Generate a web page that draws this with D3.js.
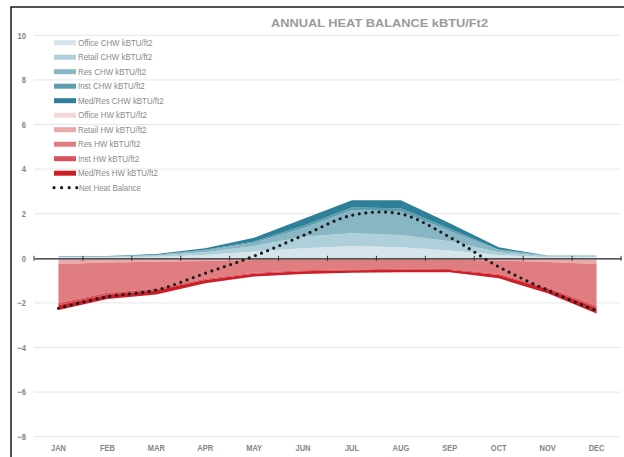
<!DOCTYPE html>
<html>
<head>
<meta charset="utf-8">
<script src="https://cdn.jsdelivr.net/npm/d3@7"></script>
<style>
  html, body { margin: 0; padding: 0; background: #fff; }
  svg { display: block; }
  text { font-family: "Liberation Sans", Arial, sans-serif; }
</style>
</head>
<body>
<svg id="chart" width="624" height="457"></svg>
<script>
// Monthly heat balance, kBTU/ft2
const months = ["JAN","FEB","MAR","APR","MAY","JUN","JUL","AUG","SEP","OCT","NOV","DEC"];

// Chilled water (cooling) loads, positive
const officeCHW = [0.04, 0.04, 0.07, 0.15, 0.30, 0.45, 0.55, 0.50, 0.35, 0.15, 0.05, 0.05];
const retailCHW = [0.03, 0.03, 0.05, 0.12, 0.25, 0.52, 0.57, 0.55, 0.42, 0.12, 0.04, 0.04];
const resCHW    = [0.01, 0.01, 0.03, 0.08, 0.15, 0.38, 1.05, 1.05, 0.45, 0.10, 0.02, 0.02];
const instCHW   = [0.01, 0.01, 0.01, 0.03, 0.05, 0.11, 0.11, 0.15, 0.10, 0.03, 0.01, 0.01];
const medCHW    = [0.01, 0.01, 0.03, 0.07, 0.17, 0.30, 0.32, 0.35, 0.25, 0.09, 0.01, 0.01];

// Hot water (heating) loads, negative
const officeHW  = [-0.08, -0.06, -0.05, -0.04, -0.03, -0.03, -0.03, -0.03, -0.03, -0.04, -0.06, -0.08];
const retailHW  = [-0.17, -0.13, -0.11, -0.08, -0.05, -0.04, -0.04, -0.04, -0.04, -0.06, -0.11, -0.18];
const resHW     = [-1.75, -1.36, -1.20, -0.80, -0.57, -0.47, -0.43, -0.40, -0.41, -0.60, -1.14, -1.88];
const instHW    = [-0.10, -0.08, -0.07, -0.05, -0.04, -0.04, -0.04, -0.04, -0.04, -0.05, -0.07, -0.10];
const medHW     = [-0.22, -0.20, -0.19, -0.15, -0.13, -0.12, -0.11, -0.11, -0.11, -0.15, -0.19, -0.23];

// Net heat balance
const netBalance = [-2.24, -1.72, -1.42, -0.67, 0.10, 1.02, 1.93, 1.99, 0.95, -0.38, -1.43, -2.35];

const yTicks = [-8, -6, -4, -2, 0, 2, 4, 6, 8, 10];

const series = [
  { key: "Office CHW kBTU/ft2",  values: officeCHW, color: "#d5e5eb" },
  { key: "Retail CHW kBTU/ft2",  values: retailCHW, color: "#afd0da" },
  { key: "Res CHW kBTU/ft2",     values: resCHW,    color: "#89b6c4" },
  { key: "Inst CHW kBTU/ft2",    values: instCHW,   color: "#5c9db0" },
  { key: "Med/Res CHW kBTU/ft2", values: medCHW,    color: "#2e8099" },
  { key: "Office HW kBTU/ft2",   values: officeHW,  color: "#f3d6d7" },
  { key: "Retail HW kBTU/ft2",   values: retailHW,  color: "#eaa9ab" },
  { key: "Res HW kBTU/ft2",      values: resHW,     color: "#e07d80" },
  { key: "Inst HW kBTU/ft2",     values: instHW,    color: "#d9515a" },
  { key: "Med/Res HW kBTU/ft2",  values: medHW,     color: "#cc1f28" }
];

const rows = months.map((m, i) => {
  const r = { month: m };
  series.forEach(s => { r[s.key] = s.values[i]; });
  return r;
});

const svg = d3.select("#chart");
const plotLeft = 34, plotRight = 621, plotTop = 35.3, plotBottom = 436.7;

const x = d3.scaleBand().domain(months).range([plotLeft, plotRight]).padding(0);
const cx = m => x(m) + x.bandwidth() / 2;
const y = d3.scaleLinear().domain([-8, 10]).range([plotBottom, plotTop]);

// Squeeze a text element horizontally to a narrow look
function narrow(sel, factor) {
  sel.each(function () {
    const w = this.getComputedTextLength();
    d3.select(this).attr("textLength", w * factor).attr("lengthAdjust", "spacingAndGlyphs");
  });
}

// Outer frame
svg.append("path")
  .attr("d", `M11,470 L11,7 L640,7`)
  .attr("fill", "none").attr("stroke", "#1a1a1a").attr("stroke-width", 1.5);

// Title
svg.append("text")
  .attr("x", 379.5).attr("y", 26.5)
  .attr("text-anchor", "middle")
  .attr("font-size", 11).attr("font-weight", "bold")
  .attr("fill", "#9a9a9a")
  .attr("textLength", 217).attr("lengthAdjust", "spacingAndGlyphs")
  .text("ANNUAL HEAT BALANCE kBTU/Ft2");

// Horizontal gridlines
svg.append("g")
  .selectAll("line")
  .data(yTicks.filter(t => t !== 0))
  .join("line")
  .attr("x1", plotLeft).attr("x2", plotRight - 1)
  .attr("y1", d => y(d)).attr("y2", d => y(d))
  .attr("stroke", "#e6e6e6").attr("stroke-width", 1);

// Y tick labels
const yAxis = d3.axisLeft(y).tickValues(yTicks).tickSize(0).tickPadding(0);
const gy = svg.append("g").attr("transform", `translate(26,0)`).call(yAxis);
gy.select(".domain").remove();
gy.selectAll("text")
  .attr("font-size", 9).attr("font-weight", "bold").attr("fill", "#858585")
  .attr("font-family", "'Liberation Sans', Arial, sans-serif")
  .call(narrow, 0.85);

// Stacked areas (positive up, negative down)
const stack = d3.stack()
  .keys(series.map(s => s.key))
  .offset(d3.stackOffsetDiverging);
const stacked = stack(rows);

const area = d3.area()
  .x(d => cx(d.data.month))
  .y0(d => y(d[0]))
  .y1(d => y(d[1]));

svg.append("g")
  .selectAll("path")
  .data(stacked)
  .join("path")
  .attr("d", area)
  .attr("fill", (d, i) => series[i].color);

// Zero axis with category ticks
const xAxis = d3.axisBottom(x).tickSize(0).tickFormat("");
svg.append("g")
  .attr("transform", `translate(0,${y(0)})`)
  .call(xAxis)
  .call(g => g.select(".domain").attr("stroke", "#222").attr("stroke-width", 1.2))
  .call(g => g.selectAll(".tick").remove());

const boundaries = months.map(m => x(m)).concat([x(months[months.length - 1]) + x.bandwidth()]);
svg.append("g")
  .selectAll("line")
  .data(boundaries)
  .join("line")
  .attr("x1", d => d).attr("x2", d => d)
  .attr("y1", y(0) - 2.5).attr("y2", y(0) + 2.5)
  .attr("stroke", "#333").attr("stroke-width", 1);

// Month labels along the bottom
const gx = svg.append("g")
  .attr("transform", `translate(0,${plotBottom + 8})`)
  .call(d3.axisBottom(x).tickSize(0).tickPadding(0));
gx.select(".domain").remove();
gx.selectAll("text")
  .attr("font-size", 8.5).attr("font-weight", "bold").attr("fill", "#858585")
  .attr("font-family", "'Liberation Sans', Arial, sans-serif")
  .call(narrow, 0.88);

// Net heat balance dotted line
const line = d3.line()
  .x((d, i) => cx(months[i]))
  .y(d => y(d))
  .curve(d3.curveCatmullRom.alpha(0.5));

svg.append("path")
  .datum(netBalance)
  .attr("d", line)
  .attr("fill", "none")
  .attr("stroke", "#1a1a1a")
  .attr("stroke-width", 3.2)
  .attr("stroke-linecap", "round")
  .attr("stroke-dasharray", "0 6.6");

// Legend
const legend = svg.append("g");
const legendTop = 42.7, legendStep = 14.5;
series.forEach((s, i) => {
  const ly = legendTop + i * legendStep;
  legend.append("rect")
    .attr("x", 54).attr("y", ly - 2.5)
    .attr("width", 22).attr("height", 5)
    .attr("fill", s.color);
  legend.append("text")
    .attr("x", 78).attr("y", ly + 3.2)
    .attr("font-size", 9.2).attr("fill", "#8a8a8a")
    .text(s.key)
    .call(narrow, 0.86);
});
const ny = legendTop + series.length * legendStep;
legend.append("line")
  .attr("x1", 54).attr("x2", 78)
  .attr("y1", ny).attr("y2", ny)
  .attr("stroke", "#1a1a1a").attr("stroke-width", 3.2)
  .attr("stroke-linecap", "round").attr("stroke-dasharray", "0 7.6");
legend.append("text")
  .attr("x", 79).attr("y", ny + 3.2)
  .attr("font-size", 9.2).attr("fill", "#8a8a8a")
  .text("Net Heat Balance")
  .call(narrow, 0.86);
</script>
</body>
</html>
